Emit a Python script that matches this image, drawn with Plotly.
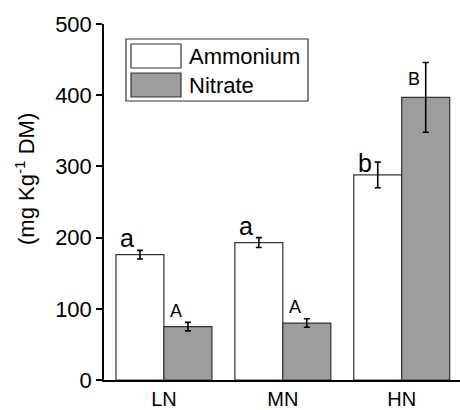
import plotly.graph_objects as go

categories = ["LN", "MN", "HN"]
ammonium = [176, 193, 288]
ammonium_err = [6, 7, 18]
nitrate = [75, 80, 397]
nitrate_err = [6, 6, 49]
ammonium_letters = ["a", "a", "b"]
nitrate_letters = ["A", "A", "B"]
ammonium_letter_y = [187, 204, 292]
nitrate_letter_y = [88, 94, 414]
y_ticks = [0, 100, 200, 300, 400, 500]

FONT = "Liberation Sans, Arial, sans-serif"
xs = list(range(len(categories)))

fig = go.Figure()
fig.add_trace(go.Bar(
    x=xs, y=ammonium, name="Ammonium",
    marker=dict(color="white", line=dict(color="#333333", width=1.2)),
    error_y=dict(type="data", array=ammonium_err, color="black", thickness=1.6, width=3),
))
fig.add_trace(go.Bar(
    x=xs, y=nitrate, name="Nitrate",
    marker=dict(color="#9d9d9d", line=dict(color="#333333", width=1.2)),
    error_y=dict(type="data", array=nitrate_err, color="black", thickness=1.6, width=3),
))

bw = 0.403
for i in xs:
    fig.add_annotation(x=i - bw / 2, y=ammonium_letter_y[i], text=ammonium_letters[i],
                       showarrow=False, xshift=-13, yanchor="bottom", yshift=-7,
                       font=dict(family=FONT, size=25, color="black"))
    fig.add_annotation(x=i + bw / 2, y=nitrate_letter_y[i], text=nitrate_letters[i],
                       showarrow=False, xshift=-12, yanchor="bottom", yshift=-6,
                       font=dict(family=FONT, size=18, color="black"))

W, H = 460, 410
ml, mt, mb = 104, 24, 30
pw, ph = W - ml, H - mt - mb
def px(x):
    return (x - ml) / pw
def py(y):
    return (H - mb - y) / ph

# y-axis title
fig.add_annotation(xref="paper", yref="paper", x=px(25), y=py(179), text="(mg Kg<sup>-1</sup> DM)",
                   textangle=-90, showarrow=False, xanchor="center", yanchor="middle",
                   font=dict(family=FONT, size=22, color="black"))

# legend drawn as box
fig.add_shape(type="rect", xref="paper", yref="paper", x0=px(126), x1=px(308), y0=py(101), y1=py(39),
              line=dict(color="#333333", width=1.2), fillcolor="white")
fig.add_shape(type="rect", xref="paper", yref="paper", x0=px(131), x1=px(181), y0=py(68), y1=py(44),
              line=dict(color="#333333", width=1.2), fillcolor="white")
fig.add_shape(type="rect", xref="paper", yref="paper", x0=px(131), x1=px(181), y0=py(97), y1=py(73),
              line=dict(color="#333333", width=1.2), fillcolor="#9d9d9d")
for name, yc in [("Ammonium", 56), ("Nitrate", 85)]:
    fig.add_annotation(xref="paper", yref="paper", x=px(187), y=py(yc), text=name, showarrow=False,
                       xanchor="left", yanchor="middle", font=dict(family=FONT, size=22, color="black"))

fig.update_layout(
    width=W, height=H,
    margin=dict(l=ml, r=0, t=mt, b=mb, pad=0),
    barmode="group", bargap=0.193, bargroupgap=0,
    plot_bgcolor="white", paper_bgcolor="white",
    showlegend=False,
    font=dict(family=FONT, color="black"),
    xaxis=dict(tickmode="array", tickvals=xs, ticktext=categories, range=[-0.504, 2.49],
               showline=True, linecolor="black", linewidth=2, ticks="", showgrid=False,
               zeroline=False, tickfont=dict(size=20)),
    yaxis=dict(range=[0, 500], tickvals=y_ticks, showline=True, linecolor="black", linewidth=1.5,
               ticks="outside", ticklen=6, tickwidth=1.5, tickcolor="black", showgrid=False,
               zeroline=False, tickfont=dict(size=22)),
)

fig.write_html("out.html")
